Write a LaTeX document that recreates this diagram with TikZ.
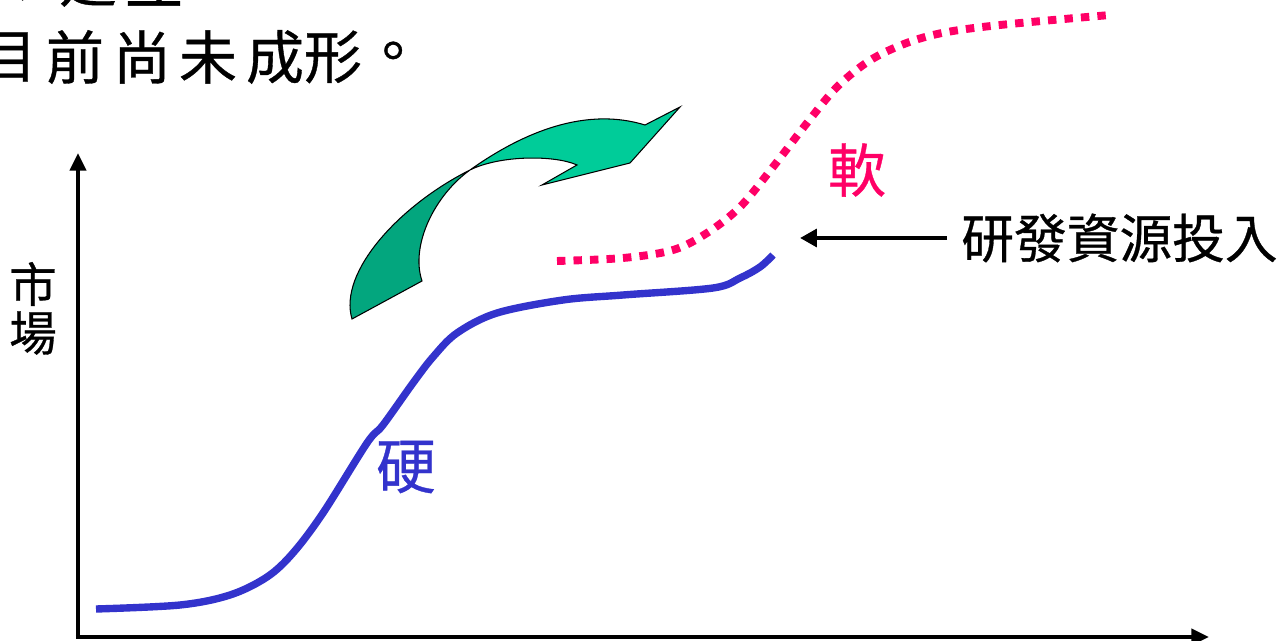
\documentclass[tikz,border=0pt]{standalone}
\usepackage{fontspec}
\newfontfamily\cjk[FakeBold=0.6]{Noto Sans CJK TC}
\usetikzlibrary{arrows.meta}
\definecolor{lightgreen}{HTML}{00CC99}
\definecolor{darkgreen}{HTML}{03A67E}
\definecolor{hardblue}{HTML}{3333CC}
\definecolor{softpink}{HTML}{FF0066}
\tikzset{
  txt/.style={inner sep=0pt, font=\cjk},
  head/.style={txt, font=\cjk\fontsize{33pt}{33pt}\selectfont},
  axis/.style={line width=2.3pt, -{Triangle[length=10pt,width=9pt]}},
  ribbon/.style={draw=black, line width=0.6pt, line join=miter},
  hardline/.style={draw=hardblue, line width=4.2pt},
  softline/.style={draw=softpink, line width=4.5pt, dash pattern=on 4.8pt off 4.6pt},
  pointer/.style={line width=2.8pt, -{Triangle[length=9.6pt,width=10pt]}}
}
\begin{document}
\begin{tikzpicture}[x=0.02cm, y=-0.02cm]
\useasboundingbox (0,0) rectangle (1285,641);
\clip (0,0) rectangle (1285,641);
% heading (partly cut off)
\node[head] (t1) at (27,-4) {，};
\node[head] (t2) at (88,-20) {建};
\node[head] (t3) at (154,-20) {立};
\node[head] (h1) at (8,57) {目};
\node[head] (h2) at (75,57) {前};
\node[head] (h3) at (142,57) {尚};
\node[head] (h4) at (208,57) {未};
\node[head] (h5) at (275,57) {成};
\node[head] (h6) at (333,57) {形};
\node[head] (h7) at (393,57) {。};
% axes
\coordinate (O) at (78,637);
\coordinate (Ytop) at (78,153);
\coordinate (Xend) at (1209,637);
\draw[axis] (O) -- (Ytop);
\draw[axis] ([xshift=-1.15pt]O) -- (Xend);
\node[txt, font=\cjk\fontsize{27pt}{27pt}\selectfont] (m1) at (33,284) {市};
\node[txt, font=\cjk\fontsize{27pt}{27pt}\selectfont] (m2) at (33,333) {場};
% green twisted arrow
\coordinate (X) at (470,170);
\fill[lightgreen] (X) .. controls (515,138) and (580,105) .. (645,125)
  -- (680,107) -- (630,163) -- (542,185) -- (577,165)
  .. controls (555,155) and (500,155) .. (X) -- cycle;
\draw[ribbon] (X) .. controls (515,138) and (580,105) .. (645,125)
  -- (680,107) -- (630,163) -- (542,185) -- (577,165)
  .. controls (555,155) and (500,155) .. (X);
\fill[darkgreen] (352,319) .. controls (338,272) and (400,205) .. (X)
  .. controls (435,195) and (410,245) .. (422,281) -- cycle;
\draw[ribbon] (352,319) .. controls (338,272) and (400,205) .. (X)
  .. controls (435,195) and (410,245) .. (422,281) -- cycle;
% hard curve
\draw[hardline] plot[smooth, tension=0.55] coordinates {(96,609) (180,605) (230,595) (267,577) (293,553) (323,513) (367,443) (383,425) (413,383) (433,357) (457,333) (497,313) (563,300) (623,295) (713,288) (740,278) (760,267) (773,255)};
\node[txt, text=hardblue, font=\cjk\fontsize{34pt}{34pt}\selectfont] (hard) at (406,467) {硬};
% soft curve
\draw[softline] plot[smooth, tension=0.55] coordinates {(557,261) (623,258) (673,250) (707,233) (740,207) (773,167) (807,123) (837,87) (869,61) (904,44) (942,33) (1000,25) (1110,15)};
\node[txt, text=softpink, font=\cjk\fontsize{33pt}{33pt}\selectfont] (soft) at (857,170) {軟};
% R&D pointer
\node[txt, inner xsep=0.28cm, anchor=west, font=\cjk\fontsize{30pt}{30pt}\selectfont] (rd) at (947,238) {研發資源投入};
\coordinate (rdtip) at (800,238);
\draw[pointer] (rd.west) -- (rdtip);
\end{tikzpicture}
\end{document}
